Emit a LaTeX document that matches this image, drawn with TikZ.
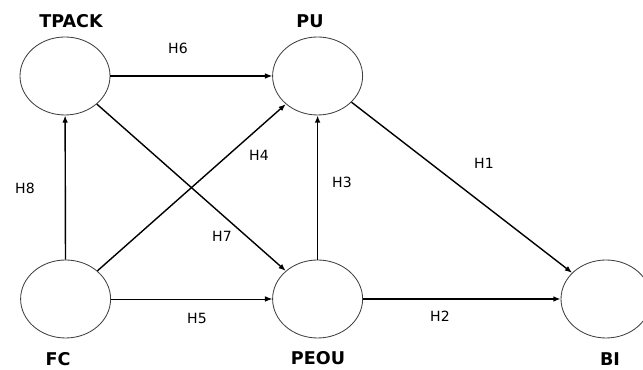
\documentclass[tikz,border=0pt]{standalone}
\usepackage{fontspec}
\setmainfont{DejaVu Sans}
\usepackage{tikz}
\usetikzlibrary{shapes.geometric , arrows.meta}

\tikzset{
    construct/.style = {ellipse , draw = black!75 , line width = 0.6pt , minimum width = 2.25cm , minimum height = 1.95cm , inner sep = 0pt},
    title/.style = {font = \fontsize{12.5}{14}\selectfont\bfseries},
    hyp/.style = {font = \fontsize{10}{12}\selectfont},
    link/.style = {line width = 1pt , -{Latex[length = 1.8mm , width = 1.4mm]}}
}

\begin{document}
\begin{tikzpicture}
    \useasboundingbox (0,0) rectangle (16.075,9.25);
    % Κύκλοι
    \node[construct] (tpack) at (1.625,7.35) {};
    \node[construct] (pu) at (7.94,7.35) {};
    \node[construct] (fc) at (1.64,1.775) {};
    \node[construct] (peou) at (7.94,1.775) {};
    \node[construct] (bi) at (15.15,1.775) {};
    % Ονόματα
    \node[title] (tpacklbl) at (1.775,8.72) {TPACK};
    \node[title] (pulbl) at (7.75,8.72) {PU};
    \node[title] (fclbl) at (1.45,0.28) {FC};
    \node[title] (peoulbl) at (7.95,0.3) {PEOU};
    \node[title] (bilbl) at (15.25,0.28) {BI};
    % Βέλη
    \draw[link , line width = 0.75pt] (tpack) -- (pu);
    \draw[link] (fc) -- (tpack);
    \draw[link] (fc) -- (pu);
    \draw[link] (tpack) -- (peou);
    \draw[link] (peou) -- (pu);
    \draw[link] (pu) -- (bi);
    \draw[link , line width = 0.6pt] (fc) -- (peou);
    \draw[link] (peou) -- (bi);
    % Υποθέσεις
    \node[hyp] (h1) at (12.1,5.17) {H1};
    \node[hyp] (h2) at (11.0,1.35) {H2};
    \node[hyp] (h3) at (8.55,4.7) {H3};
    \node[hyp] (h4) at (6.475,5.37) {H4};
    \node[hyp] (h5) at (4.925,1.3) {H5};
    \node[hyp] (h6) at (4.45,8.05) {H6};
    \node[hyp] (h7) at (5.55,3.35) {H7};
    \node[hyp] (h8) at (0.625,4.55) {H8};
\end{tikzpicture}
\end{document}
